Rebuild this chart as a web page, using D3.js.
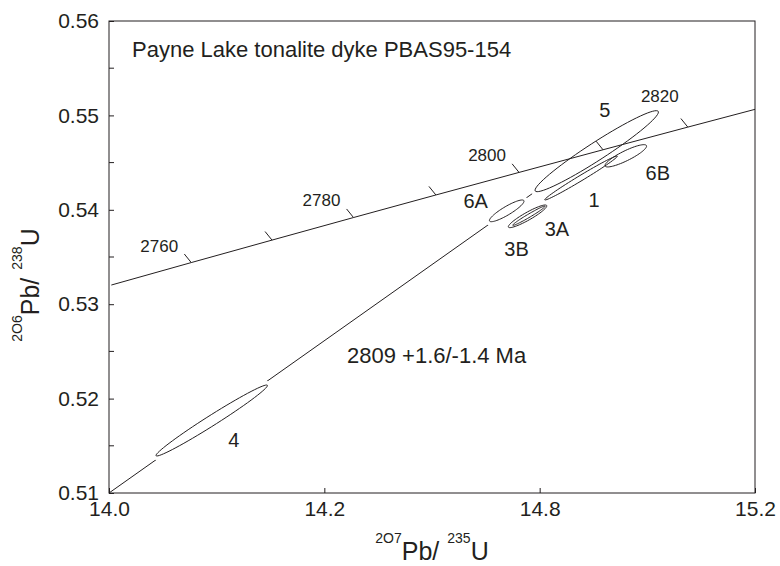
<!DOCTYPE html>
<html>
<head>
<meta charset="utf-8">
<script src="https://cdn.jsdelivr.net/npm/d3@7/dist/d3.min.js"></script>
<style>
  body { margin: 0; background: #fff; }
  svg { display: block; }
  text { font-family: "Liberation Sans", Arial, Helvetica, sans-serif; fill: #231f20; }
</style>
</head>
<body>
<div class="chart"></div>
<script>
/** axis ticks (the 14.4 tick carries the label "14.2" in the original) */
const xTicks = [14.0, 14.4, 14.8, 15.2];
const xTickLabels = ["14.0", "14.2", "14.8", "15.2"];
const yTicks = [0.51, 0.52, 0.53, 0.54, 0.55, 0.56];
const yMinorTicks = [0.515, 0.525, 0.535, 0.545, 0.555];

/** concordia points, every 10 Ma */
const concAges = [2750, 2760, 2770, 2780, 2790, 2800, 2810, 2820, 2830];
const concX = [14.0043, 14.1528, 14.3028, 14.4542, 14.6072, 14.7617, 14.9177, 15.0752, 15.2343];
const concY = [0.53203, 0.53441, 0.53679, 0.53918, 0.54157, 0.54396, 0.54636, 0.54876, 0.55116];
const tickAges = [2760, 2770, 2780, 2790, 2800, 2810, 2820];
const labelAges = [2760, 2780, 2800, 2820];

/** error ellipses: centre, half extent in x and y, correlation */
const ellipseNames = ["4", "6A", "3B", "3A", "1", "5", "6B"];
const ellipseX   = [14.1908, 14.7388, 14.7775, 14.7800, 14.8768, 14.9060, 14.9600];
const ellipseY   = [0.51768, 0.53989, 0.53931, 0.53937, 0.54337, 0.54621, 0.54572];
const ellipseSx  = [0.1035, 0.0321, 0.0357, 0.0300, 0.0674, 0.1146, 0.0386];
const ellipseSy  = [0.00376, 0.00115, 0.00120, 0.00102, 0.00233, 0.00429, 0.00118];
const ellipseRho = [0.985, 0.89, 0.92, 0.98, 0.99, 0.965, 0.87];

/** discordia */
const discordiaX = [14.0, 14.91];
const discordiaY = [0.510, 0.5467];

const titleText = "Payne Lake tonalite dyke PBAS95-154";
const interceptText = "2809 +1.6/-1.4 Ma";

/** canvas */
let width = 780, height = 566;
let margin = { top: 21, right: 25, bottom: 73, left: 109 };

let svg = d3.select('.chart').append('svg')
    .attr('width', width)
    .attr('height', height);

let xScale = d3.scaleLinear().domain([14.0, 15.2]).range([margin.left, width - margin.right]);
let yScale = d3.scaleLinear().domain([0.51, 0.56]).range([height - margin.bottom, margin.top]);

let x0 = xScale.range()[0], x1 = xScale.range()[1];
let y0 = yScale.range()[0], y1 = yScale.range()[1];

svg.append('clipPath').attr('id', 'plotClip')
    .append('rect')
    .attr('x', x0).attr('y', y1)
    .attr('width', x1 - x0).attr('height', y0 - y1);

/** ellipse path in data space, projected by the scales */
function ellipsePoints(i) {
    return d3.range(0, 73).map(function (k) {
        let t = k / 72 * 2 * Math.PI;
        let r = ellipseRho[i];
        let dx = ellipseSx[i] * Math.cos(t);
        let dy = ellipseSy[i] * (r * Math.cos(t) + Math.sqrt(1 - r * r) * Math.sin(t));
        return [xScale(ellipseX[i] + dx), yScale(ellipseY[i] + dy)];
    });
}
let ellipseLine = d3.line().curve(d3.curveLinearClosed);

/** mask so the discordia breaks around the ellipses */
let mask = svg.append('mask').attr('id', 'ellMask').attr('maskUnits', 'userSpaceOnUse')
    .attr('x', 0).attr('y', 0).attr('width', width).attr('height', height);
mask.append('rect').attr('width', width).attr('height', height).attr('fill', 'white');
mask.selectAll('path')
    .data(ellipseNames)
    .enter()
    .append('path')
    .attr('d', function (d, i) { return ellipseLine(ellipsePoints(i)); })
    .attr('fill', 'black')
    .attr('stroke', 'black')
    .attr('stroke-width', 8);

let plot = svg.append('g').attr('clip-path', 'url(#plotClip)');

/** discordia line */
plot.append('line')
    .attr('x1', xScale(discordiaX[0])).attr('y1', yScale(discordiaY[0]))
    .attr('x2', xScale(discordiaX[1])).attr('y2', yScale(discordiaY[1]))
    .attr('stroke', '#231f20')
    .attr('stroke-width', 1)
    .attr('mask', 'url(#ellMask)');

/** concordia curve */
let concLine = d3.line()
    .x(function (d, i) { return xScale(concX[i]); })
    .y(function (d, i) { return yScale(concY[i]); });

plot.append('path')
    .datum(concAges)
    .attr('d', concLine)
    .attr('fill', 'none')
    .attr('stroke', '#231f20')
    .attr('stroke-width', 1);

/** concordia age ticks */
let tickLen = 11, tickDir = [-0.63, -0.78];
tickAges.forEach(function (age) {
    let i = concAges.indexOf(age);
    let px = xScale(concX[i]), py = yScale(concY[i]);
    plot.append('line')
        .attr('x1', px).attr('y1', py)
        .attr('x2', px + tickDir[0] * tickLen).attr('y2', py + tickDir[1] * tickLen)
        .attr('stroke', '#231f20')
        .attr('stroke-width', 1);
    if (labelAges.indexOf(age) >= 0) {
        let off = age === 2820 ? [-28, -31] : [-32, -17];
        svg.append('text')
            .attr('x', px + off[0])
            .attr('y', py + off[1])
            .attr('dy', '0.35em')
            .attr('text-anchor', 'middle')
            .style('font-size', '17px')
            .text(age);
    }
});

/** ellipses */
plot.selectAll('.ell')
    .data(ellipseNames)
    .enter()
    .append('path')
    .attr('class', 'ell')
    .attr('d', function (d, i) { return ellipseLine(ellipsePoints(i)); })
    .attr('fill', 'none')
    .attr('stroke', '#231f20')
    .attr('stroke-width', 1);

/** ellipse labels, offset in pixels from the ellipse centre */
const labelOffset = {
    "4": [22, 19], "6A": [-31, -10], "3B": [-11, 33], "3A": [28, 13],
    "1": [13, 22], "5": [8, -41], "6B": [32, 17]
};
svg.selectAll('.ellLabel')
    .data(ellipseNames)
    .enter()
    .append('text')
    .attr('class', 'ellLabel')
    .attr('x', function (d, i) { return xScale(ellipseX[i]) + labelOffset[d][0]; })
    .attr('y', function (d, i) { return yScale(ellipseY[i]) + labelOffset[d][1]; })
    .attr('dy', '0.35em')
    .attr('text-anchor', 'middle')
    .style('font-size', '20px')
    .text(function (d) { return d; });

/** frame */
svg.append('rect')
    .attr('x', x0).attr('y', y1)
    .attr('width', x1 - x0).attr('height', y0 - y1)
    .attr('fill', 'none')
    .attr('stroke', '#231f20')
    .attr('stroke-width', 1);

/** axes with inward ticks */
let xAxis = d3.axisBottom(xScale)
    .tickValues(xTicks)
    .tickSize(-5)
    .tickFormat(function (d, i) { return xTickLabels[i]; });
let gx = svg.append('g')
    .attr('transform', 'translate(0,' + y0 + ')')
    .call(xAxis);
gx.select('.domain').remove();
gx.selectAll('text')
    .attr('y', 8)
    .attr('dy', '0.71em')
    .style('font-size', '21px')
    .style('font-family', '"Liberation Sans", Arial, sans-serif');

let yAxis = d3.axisLeft(yScale)
    .tickValues(yTicks)
    .tickSize(-5)
    .tickFormat(d3.format('.2f'));
let gy = svg.append('g')
    .attr('transform', 'translate(' + x0 + ',0)')
    .call(yAxis);
gy.select('.domain').remove();
gy.selectAll('text')
    .attr('x', -10)
    .style('font-size', '21px')
    .style('font-family', '"Liberation Sans", Arial, sans-serif');

svg.append('g')
    .selectAll('line')
    .data(yMinorTicks)
    .enter()
    .append('line')
    .attr('x1', x0).attr('x2', x0 + 5)
    .attr('y1', function (d) { return yScale(d); })
    .attr('y2', function (d) { return yScale(d); })
    .attr('stroke', '#231f20');

svg.selectAll('.tick line').attr('stroke', '#231f20');
svg.selectAll('.tick text').attr('fill', '#231f20');

/** title and intercept age */
svg.append('text')
    .attr('x', 132)
    .attr('y', 57)
    .style('font-size', '22px')
    .text(titleText);

svg.append('text')
    .attr('x', 347)
    .attr('y', 363)
    .style('font-size', '22px')
    .text(interceptText);

/** axis titles */
let xTitle = svg.append('text')
    .attr('x', (x0 + x1) / 2)
    .attr('y', 560)
    .attr('text-anchor', 'middle');
xTitle.append('tspan').attr('dy', -17).style('font-size', '14px').text('2O7');
xTitle.append('tspan').attr('dy', 17).style('font-size', '25px').text('Pb/');
xTitle.append('tspan').attr('dx', 8).attr('dy', -17).style('font-size', '14px').text('235');
xTitle.append('tspan').attr('dy', 17).style('font-size', '25px').text('U');

let yTitle = svg.append('text')
    .attr('transform', 'translate(39,285) rotate(-90)')
    .attr('text-anchor', 'middle');
yTitle.append('tspan').attr('dy', -17).style('font-size', '14px').text('2O6');
yTitle.append('tspan').attr('dy', 17).style('font-size', '25px').text('Pb/');
yTitle.append('tspan').attr('dx', 8).attr('dy', -17).style('font-size', '14px').text('238');
yTitle.append('tspan').attr('dy', 17).style('font-size', '25px').text('U');
</script>
</body>
</html>
